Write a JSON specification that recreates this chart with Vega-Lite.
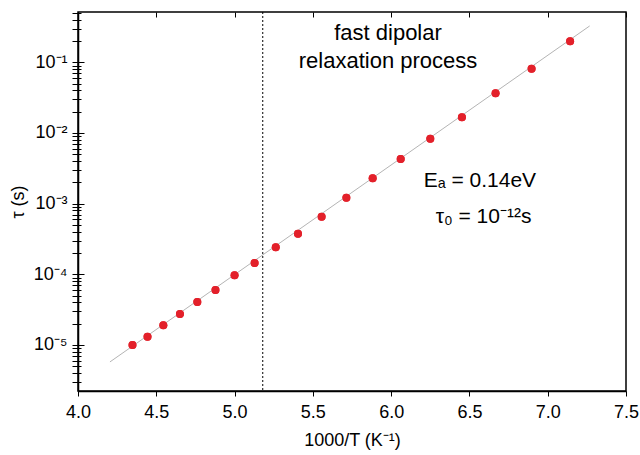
{
  "$schema": "https://vega.github.io/schema/vega-lite/v6.json",
  "width": 548,
  "height": 379,
  "autosize": {"type": "none"},
  "padding": {"left": 78, "top": 12, "right": 14, "bottom": 64},
  "background": "white",
  "config": {
    "view": {"stroke": "black", "strokeWidth": 1.5},
    "font": "Liberation Sans",
    "axis": {
      "domainColor": "black",
      "domainWidth": 1.5,
      "tickColor": "black",
      "labelColor": "black",
      "titleColor": "black",
      "labelFontSize": 18,
      "titleFontSize": 18,
      "titleFontWeight": "normal"
    }
  },
  "datasets": {
    "points": [
      {"T1000": 4.348, "tau": 1.00e-5},
      {"T1000": 4.444, "tau": 1.31e-5},
      {"T1000": 4.545, "tau": 1.90e-5},
      {"T1000": 4.651, "tau": 2.75e-5},
      {"T1000": 4.762, "tau": 4.06e-5},
      {"T1000": 4.878, "tau": 6.0e-5},
      {"T1000": 5.0, "tau": 9.68e-5},
      {"T1000": 5.128, "tau": 1.45e-4},
      {"T1000": 5.263, "tau": 2.42e-4},
      {"T1000": 5.405, "tau": 3.76e-4},
      {"T1000": 5.556, "tau": 6.53e-4},
      {"T1000": 5.714, "tau": 1.21e-3},
      {"T1000": 5.882, "tau": 2.28e-3},
      {"T1000": 6.061, "tau": 4.28e-3},
      {"T1000": 6.25, "tau": 8.3e-3},
      {"T1000": 6.452, "tau": 1.67e-2},
      {"T1000": 6.667, "tau": 3.65e-2},
      {"T1000": 6.897, "tau": 8.13e-2},
      {"T1000": 7.143, "tau": 0.198}
    ],
    "fit": [
      {"T1000": 4.204, "tau": 5.75e-6},
      {"T1000": 7.268, "tau": 0.327}
    ]
  },
  "layer": [
    {
      "data": {"name": "points"},
      "mark": {"type": "circle", "size": 64, "color": "#e3202a", "opacity": 1},
      "encoding": {
        "x": {
          "field": "T1000", "type": "quantitative",
          "scale": {"domain": [4, 7.5], "nice": false, "zero": false},
          "axis": {
            "title": "1000/T (K⁻¹)",
            "values": [4, 4.25, 4.5, 4.75, 5, 5.25, 5.5, 5.75, 6, 6.25, 6.5, 6.75, 7, 7.25, 7.5],
            "labelExpr": "(datum.value * 2) % 1 == 0 ? format(datum.value, '.1f') : ''",
            "labelFlush": false,
            "tickSize": 5,
            "labelPadding": 7,
            "titlePadding": 10,
            "grid": true,
            "gridColor": "black",
            "gridWidth": 1,
            "gridOpacity": 1,
            "gridDash": {"condition": {"test": "(datum.value * 2) % 1 == 0", "value": [5, 2000]}, "value": [3, 2000]}
          }
        },
        "y": {
          "field": "tau", "type": "quantitative",
          "scale": {"type": "log", "domain": [2.23e-6, 0.515], "nice": false, "zero": false},
          "axis": {
            "title": "τ (s)",
            "values": [3e-6, 4e-6, 5e-6, 6e-6, 7e-6, 8e-6, 9e-6,
                       1e-5, 2e-5, 3e-5, 4e-5, 5e-5, 6e-5, 7e-5, 8e-5, 9e-5,
                       1e-4, 2e-4, 3e-4, 4e-4, 5e-4, 6e-4, 7e-4, 8e-4, 9e-4,
                       1e-3, 2e-3, 3e-3, 4e-3, 5e-3, 6e-3, 7e-3, 8e-3, 9e-3,
                       1e-2, 2e-2, 3e-2, 4e-2, 5e-2, 6e-2, 7e-2, 8e-2, 9e-2,
                       1e-1, 2e-1, 3e-1, 4e-1, 5e-1],
            "labelExpr": "abs(log(datum.value)/LN10 - round(log(datum.value)/LN10)) < 0.01 ? ['10⁻⁵','10⁻⁴','10⁻³','10⁻²','10⁻¹'][round(log(datum.value)/LN10) + 5] : ''",
            "labelOverlap": false,
            "tickSize": 6,
            "labelPadding": 5,
            "titlePadding": 6,
            "grid": true,
            "gridColor": "black",
            "gridWidth": 1,
            "gridOpacity": 1,
            "gridDash": {"condition": {"test": "abs(log(datum.value)/LN10 - round(log(datum.value)/LN10)) < 0.01", "value": [6, 2000]}, "value": [3, 2000]}
          }
        }
      }
    },
    {
      "data": {"name": "fit"},
      "mark": {"type": "line", "color": "#b4b4b4", "strokeWidth": 1},
      "encoding": {
        "x": {"field": "T1000", "type": "quantitative"},
        "y": {"field": "tau", "type": "quantitative"}
      }
    },
    {
      "data": {"values": [{}]},
      "mark": {"type": "rule", "color": "black", "strokeWidth": 1, "strokeDash": [2, 2]},
      "encoding": {"x": {"datum": 5.18, "type": "quantitative"}}
    },
    {
      "data": {"name": "points"},
      "mark": {"type": "circle", "size": 64, "color": "#e3202a", "opacity": 1},
      "encoding": {
        "x": {"field": "T1000", "type": "quantitative"},
        "y": {"field": "tau", "type": "quantitative"}
      }
    },
    {
      "data": {"values": [{}]},
      "mark": {"type": "text", "fontSize": 22, "align": "center", "baseline": "alphabetic", "color": "black", "text": "fast dipolar"},
      "encoding": {"x": {"datum": 5.98, "type": "quantitative"}, "y": {"datum": 0.207, "type": "quantitative"}}
    },
    {
      "data": {"values": [{}]},
      "mark": {"type": "text", "fontSize": 22, "align": "center", "baseline": "alphabetic", "color": "black", "text": "relaxation process"},
      "encoding": {"x": {"datum": 5.98, "type": "quantitative"}, "y": {"datum": 0.0832, "type": "quantitative"}}
    },
    {
      "data": {"values": [{}]},
      "mark": {"type": "text", "fontSize": 21, "align": "center", "baseline": "alphabetic", "color": "black", "text": "Eₐ = 0.14eV"},
      "encoding": {"x": {"datum": 6.567, "type": "quantitative"}, "y": {"datum": 1.72e-3, "type": "quantitative"}}
    },
    {
      "data": {"values": [{}]},
      "mark": {"type": "text", "fontSize": 21, "align": "center", "baseline": "alphabetic", "color": "black", "text": "τ₀ = 10⁻¹²s"},
      "encoding": {"x": {"datum": 6.59, "type": "quantitative"}, "y": {"datum": 5.32e-4, "type": "quantitative"}}
    }
  ]
}
